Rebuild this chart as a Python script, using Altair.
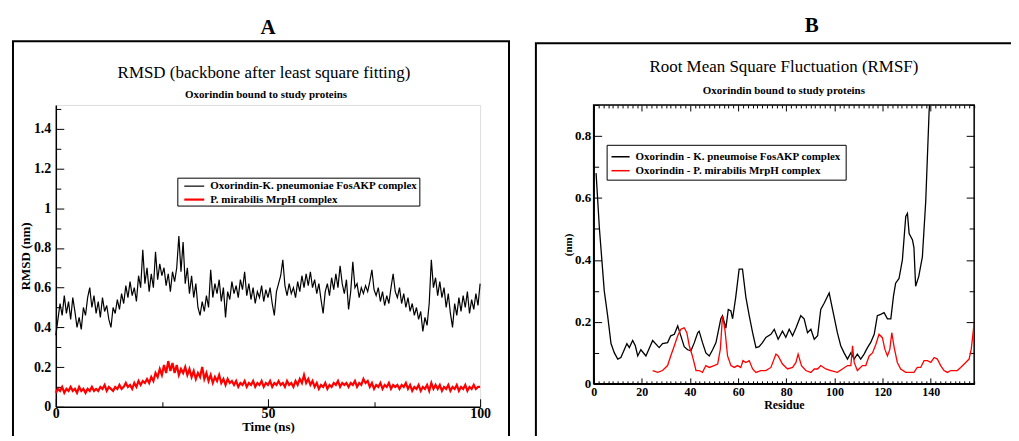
import altair as alt
import pandas as pd

FONT = "Liberation Serif"

# ---------------- Panel A : RMSD ----------------
A_SERIES = ["Oxorindin-K. pneumoniae FosAKP complex", "P. mirabilis MrpH complex"]
A_TIME = [i * 0.5 for i in range(201)]
A_BLACK = [
    0.36, 0.44, 0.52, 0.46, 0.56, 0.47, 0.53, 0.44, 0.55, 0.48, 0.40, 0.45, 0.39, 0.50, 0.46, 0.55, 0.60, 0.50, 0.56, 0.47,
    0.53, 0.45, 0.55, 0.48, 0.51, 0.44, 0.40, 0.50, 0.47, 0.54, 0.49, 0.57, 0.52, 0.61, 0.55, 0.63, 0.56, 0.60, 0.53, 0.66,
    0.60, 0.79, 0.62, 0.70, 0.58, 0.67, 0.60, 0.78, 0.64, 0.72, 0.66, 0.70, 0.61, 0.67, 0.58, 0.68, 0.63, 0.70, 0.86, 0.68,
    0.83, 0.62, 0.70, 0.57, 0.66, 0.55, 0.62, 0.50, 0.46, 0.53, 0.48, 0.56, 0.50, 0.69, 0.55, 0.62, 0.57, 0.64, 0.53, 0.60,
    0.45, 0.58, 0.54, 0.63, 0.57, 0.61, 0.55, 0.64, 0.59, 0.68, 0.56, 0.62, 0.54, 0.60, 0.52, 0.58, 0.55, 0.61, 0.53, 0.59,
    0.55, 0.60, 0.52, 0.46, 0.58, 0.62, 0.66, 0.74, 0.61, 0.56, 0.62, 0.57, 0.60, 0.55, 0.63, 0.58, 0.66, 0.60, 0.67, 0.61,
    0.68, 0.60, 0.64, 0.57, 0.62, 0.54, 0.47, 0.58, 0.62, 0.56, 0.65, 0.59, 0.67, 0.60, 0.71, 0.62, 0.57, 0.64, 0.49, 0.58,
    0.73, 0.60, 0.62, 0.55, 0.60, 0.57, 0.61, 0.58, 0.63, 0.69, 0.59, 0.56, 0.60, 0.53, 0.58, 0.51, 0.56, 0.52, 0.60, 0.67,
    0.58, 0.55, 0.60, 0.52, 0.57, 0.50, 0.55, 0.48, 0.52, 0.46, 0.50, 0.44, 0.48, 0.38, 0.45, 0.41, 0.52, 0.74, 0.60, 0.65,
    0.56, 0.63, 0.55, 0.60, 0.50, 0.57, 0.47, 0.40, 0.52, 0.46, 0.55, 0.48, 0.56, 0.50, 0.58, 0.47, 0.54, 0.49, 0.57, 0.51,
    0.62,
]
A_RED = [
    0.07, 0.09, 0.08, 0.10, 0.07, 0.09, 0.08, 0.10, 0.08, 0.09, 0.07, 0.10, 0.08, 0.09, 0.07, 0.09, 0.08, 0.10, 0.08, 0.09,
    0.08, 0.10, 0.09, 0.11, 0.08, 0.10, 0.09, 0.08, 0.10, 0.09, 0.11, 0.09, 0.10, 0.12, 0.10, 0.11, 0.09, 0.12, 0.10, 0.13,
    0.11, 0.13, 0.12, 0.14, 0.12, 0.15, 0.13, 0.17, 0.15, 0.19, 0.16, 0.21, 0.17, 0.23, 0.18, 0.22, 0.17, 0.21, 0.16, 0.19,
    0.17, 0.20, 0.16, 0.19, 0.15, 0.18, 0.14, 0.17, 0.15, 0.20, 0.14, 0.17, 0.13, 0.16, 0.12, 0.15, 0.13, 0.16, 0.12, 0.14,
    0.11, 0.14, 0.12, 0.13, 0.11, 0.13, 0.10, 0.12, 0.11, 0.13, 0.10, 0.12, 0.11, 0.13, 0.10, 0.12, 0.11, 0.13, 0.10, 0.12,
    0.11, 0.13, 0.10, 0.12, 0.11, 0.13, 0.11, 0.12, 0.10, 0.13, 0.11, 0.12, 0.10, 0.13, 0.11, 0.14, 0.12, 0.16, 0.12, 0.14,
    0.11, 0.13, 0.10, 0.12, 0.09, 0.11, 0.10, 0.12, 0.09, 0.11, 0.10, 0.12, 0.11, 0.13, 0.10, 0.12, 0.11, 0.12, 0.10, 0.12,
    0.11, 0.13, 0.10, 0.12, 0.11, 0.14, 0.12, 0.13, 0.10, 0.12, 0.09, 0.11, 0.10, 0.12, 0.09, 0.11, 0.10, 0.12, 0.09, 0.11,
    0.10, 0.11, 0.09, 0.11, 0.10, 0.12, 0.09, 0.11, 0.08, 0.10, 0.09, 0.11, 0.08, 0.10, 0.09, 0.11, 0.08, 0.12, 0.09, 0.11,
    0.09, 0.11, 0.08, 0.10, 0.09, 0.11, 0.08, 0.10, 0.09, 0.11, 0.08, 0.10, 0.09, 0.11, 0.08, 0.10, 0.09, 0.11, 0.09, 0.10,
    0.10,
]
A_X_LABELS = [0, 50, 100]
A_X_TICKS = [0, 25, 50, 75, 100]
A_Y_LABELS = [0, 0.2, 0.4, 0.6, 0.8, 1.0, 1.2, 1.4]
A_Y_TICKS = [round(i * 0.1, 1) for i in range(16)]

# ---------------- Panel B : RMSF ----------------
B_SERIES = ["Oxorindin - K. pneumoise FosAKP complex", "Oxorindin - P. mirabilis MrpH complex"]
B_BLACK_RES = [1, 2.4, 4.4, 5.8, 7.2, 8.6, 10, 11.3, 12.7, 13.8, 14.8, 16.2, 17.3, 18.3, 19.6, 21.7, 24.5, 27.2, 28.6,
               30.7, 32, 33.5, 34.9, 36.2, 37.6, 39, 40.4, 41.8, 43.2, 43.8, 45.2, 46.6, 48, 49.4, 50.8, 52.8, 53.5,
               54.9, 55.9, 57, 57.7, 59, 60.4, 61.8, 63.2, 64.6, 66, 67.4, 68.7, 70.1, 71.5, 73.6, 75, 76.6, 78.4,
               79.8, 81.2, 82.6, 84, 86, 87.4, 88.8, 90.2, 91.6, 93, 94.3, 95.7, 97.8, 99.2, 101.2, 102.6, 104, 105.4,
               106.8, 108.2, 109.5, 110.9, 112.3, 113.7, 115, 116.5, 117.8, 119.2, 120.6, 122, 123.4, 124.5, 125.4,
               126.8, 128.2, 129.6, 130.3, 131, 132.4, 133, 133.7, 135, 136.5, 137.9, 139.3, 140.5, 142, 145, 150,
               155, 158]
B_BLACK_VAL = [0.68, 0.50, 0.30, 0.22, 0.13, 0.10, 0.08, 0.085, 0.11, 0.13, 0.117, 0.14, 0.123, 0.09, 0.11, 0.09, 0.14,
               0.117, 0.13, 0.133, 0.155, 0.16, 0.187, 0.155, 0.12, 0.11, 0.107, 0.133, 0.165, 0.17, 0.133, 0.10, 0.09,
               0.11, 0.133, 0.21, 0.22, 0.18, 0.24, 0.235, 0.21, 0.28, 0.37, 0.37, 0.28, 0.22, 0.165, 0.117, 0.12,
               0.133, 0.15, 0.16, 0.176, 0.144, 0.17, 0.15, 0.176, 0.155, 0.18, 0.22, 0.21, 0.165, 0.176, 0.144,
               0.155, 0.24, 0.26, 0.293, 0.24, 0.165, 0.123, 0.10, 0.08, 0.10, 0.08, 0.096, 0.08, 0.096, 0.117, 0.133,
               0.16, 0.22, 0.224, 0.23, 0.21, 0.21, 0.283, 0.325, 0.34, 0.40, 0.54, 0.55, 0.485, 0.464, 0.44, 0.315,
               0.347, 0.41, 0.59, 0.88, 1.0, 1.15, 1.3, 1.4, 1.45, 1.5]
B_RED_RES = [24.5, 26.6, 28.6, 30.7, 32, 33.5, 34.9, 36.2, 37.6, 38.7, 39.7, 41, 42.5, 43.8, 45.2, 46.6, 48, 50, 51.5,
             52.6, 53.5, 54.5, 55.6, 57, 58.4, 59.7, 61.1, 62, 63.2, 64.6, 66, 67.4, 69.4, 71.5, 73.6, 75.7, 76.6,
             78.4, 80.5, 82.6, 84, 84.9, 86.3, 88.1, 90.2, 91.6, 93, 94.3, 96.4, 98.5, 101.2, 103.3, 105.4, 106.8,
             107.5, 108.2, 109.5, 111.6, 113, 114.4, 115.8, 117.2, 118.5, 119.9, 120.9, 122, 123, 123.8, 124.8,
             126.1, 127.5, 129.6, 131.7, 133, 134.4, 135.8, 137.2, 138.6, 140, 141.4, 142.7, 144.1, 145.5, 146.9,
             148.3, 149.7, 151, 152.4, 154.5, 155.9, 156.8, 158]
B_RED_VAL = [0.043, 0.037, 0.043, 0.059, 0.09, 0.123, 0.155, 0.176, 0.181, 0.165, 0.123, 0.09, 0.043, 0.043, 0.037,
             0.059, 0.053, 0.059, 0.064, 0.112, 0.219, 0.176, 0.09, 0.059, 0.053, 0.059, 0.053, 0.075, 0.069, 0.075,
             0.048, 0.037, 0.043, 0.043, 0.053, 0.096, 0.09, 0.064, 0.048, 0.053, 0.069, 0.096, 0.059, 0.043, 0.037,
             0.048, 0.048, 0.059, 0.048, 0.043, 0.037, 0.048, 0.059, 0.059, 0.123, 0.069, 0.043, 0.059, 0.059, 0.09,
             0.10, 0.128, 0.16, 0.149, 0.112, 0.09, 0.112, 0.165, 0.117, 0.069, 0.048, 0.037, 0.037, 0.037, 0.053,
             0.053, 0.075, 0.075, 0.069, 0.085, 0.08, 0.059, 0.043, 0.037, 0.043, 0.043, 0.043, 0.053, 0.069, 0.08,
             0.112, 0.197]
B_X_LABELS = [0, 20, 40, 60, 80, 100, 120, 140]
B_X_TICKS = list(range(0, 159, 2))
B_Y_LABELS = [0, 0.2, 0.4, 0.6, 0.8]
B_Y_TICKS = [round(i * 0.1, 1) for i in range(10)]

WA, HA = 426, 303
WB, HB = 382, 280

deco = pd.DataFrame({"k": [0]})


def text(t, x, y, size, weight="normal"):
    return alt.Chart(deco).mark_text(
        text=t, font=FONT, fontSize=size, fontWeight=weight, color="black",
        align="center", baseline="middle"
    ).encode(x=alt.value(x), y=alt.value(y))


def frame(x1, x2, y1, y2, sw=2):
    return alt.Chart(deco).mark_rect(filled=False, stroke="black", strokeWidth=sw).encode(
        x=alt.value(x1), x2=alt.value(x2), y=alt.value(y1), y2=alt.value(y2))


def label_axis(values, title, lsize, tsize, lpad, tpad):
    return alt.Axis(values=values, ticks=False, grid=False, format="~f", domainColor="black", domainWidth=1.5,
                    labelFont=FONT, labelFontSize=lsize, labelFontWeight="bold", labelColor="black",
                    labelPadding=lpad, labelOverlap=False, labelFlush=False,
                    title=title, titleFont=FONT, titleFontSize=tsize, titleFontWeight="bold",
                    titleColor="black", titlePadding=tpad)


def tick_axis(values, orient, offset, test, big, small):
    return alt.Axis(values=values, orient=orient, offset=offset, labels=False, domain=False, grid=False,
                    title=None, tickColor="black", tickWidth=1,
                    tickSize={"condition": {"test": test, "value": big}, "value": small})


def legend(x, y, pad, rowpad, size, path, symoff, laboff):
    return alt.Legend(title=None, orient="none", legendX=x, legendY=y,
                      strokeColor="black", fillColor="white", padding=pad,
                      symbolType=path, symbolSize=size, symbolStrokeWidth=1.5,
                      symbolOffset=symoff, labelOffset=laboff,
                      labelFont=FONT, labelFontSize=11, labelFontWeight="bold",
                      labelColor="black", labelLimit=500, rowPadding=rowpad)


# ----- Panel A -----
dfA = pd.concat([
    pd.DataFrame({"t": A_TIME, "v": A_BLACK, "sa": A_SERIES[0]}),
    pd.DataFrame({"t": A_TIME, "v": A_RED, "sa": A_SERIES[1]}),
])
sxA = alt.Scale(domain=[0, 100], nice=False, zero=False)
syA = alt.Scale(domain=[0, 1.52], nice=False)

linesA = alt.Chart(dfA).mark_line().encode(
    x=alt.X("t:Q", scale=sxA, axis=label_axis(A_X_LABELS, "Time (ns)", 14, 13, 0, 0)),
    y=alt.Y("v:Q", scale=syA, axis=label_axis(A_Y_LABELS, "RMSD (nm)", 14, 13, 5, 1)),
    color=alt.Color("sa:N", scale=alt.Scale(domain=A_SERIES, range=["black", "red"]),
                    legend=legend(122, 73, 1, 0, 169, "M-1.54,0H1.54", 8, 8)),
    strokeWidth=alt.StrokeWidth("sa:N", scale=alt.Scale(domain=A_SERIES, range=[1.2, 2.2]), legend=None),
)
ticksA = alt.Chart(pd.DataFrame({"t": [0], "v": [0]})).mark_point(opacity=0).encode(
    x=alt.X("t:Q", scale=sxA, axis=tick_axis(A_X_TICKS, "top", -HA, "datum.value % 50 == 0", 8, 5)),
    y=alt.Y("v:Q", scale=syA, axis=tick_axis(A_Y_TICKS, "right", -WA,
                                             "abs(datum.value*5 - round(datum.value*5)) < 0.001", 8, 5)),
)
panelA = alt.layer(
    frame(-43, 455, -64, 348),
    text("A", 213, -77, 21, "bold"),
    text("RMSD (backbone after least square fitting)", 209, -32, 17),
    text("Oxorindin bound to study proteins", 211, -10, 11, "bold"),
    linesA, ticksA,
).resolve_axis(x="independent", y="independent").properties(width=WA, height=HA)

# ----- Panel B -----
dfB = pd.concat([
    pd.DataFrame({"r": B_BLACK_RES, "v": B_BLACK_VAL, "sb": B_SERIES[0]}),
    pd.DataFrame({"r": B_RED_RES, "v": B_RED_VAL, "sb": B_SERIES[1]}),
])
sxB = alt.Scale(domain=[0, 158], nice=False, zero=False)
syB = alt.Scale(domain=[0, 0.9], nice=False)

linesB = alt.Chart(dfB).mark_line(clip=True, strokeWidth=1.3).encode(
    x=alt.X("r:Q", scale=sxB, axis=label_axis(B_X_LABELS, "Residue", 12, 12, 3, 2)),
    y=alt.Y("v:Q", scale=syB, axis=label_axis(B_Y_LABELS, "(nm)", 13, 11, 3, 1)),
    color=alt.Color("sb:N", scale=alt.Scale(domain=B_SERIES, range=["black", "red"]),
                    legend=legend(13, 40, 4, 1, 196, "M-1.3,0H1.3", 2, 7)),
)
tickB = pd.DataFrame({"r": [0], "v": [0]})
ticksB1 = alt.Chart(tickB).mark_point(opacity=0).encode(
    x=alt.X("r:Q", scale=sxB, axis=tick_axis(B_X_TICKS, "top", -HB, "datum.value % 20 == 0", 6, 3)),
    y=alt.Y("v:Q", scale=syB, axis=tick_axis(B_Y_TICKS, "right", -WB,
                                             "abs(datum.value*5 - round(datum.value*5)) < 0.001", 8, 5)),
)
ticksB2 = alt.Chart(tickB).mark_point(opacity=0).encode(
    x=alt.X("r:Q", scale=sxB, axis=tick_axis(B_X_TICKS, "bottom", -HB, "datum.value % 20 == 0", 6, 3)),
    y=alt.Y("v:Q", scale=syB, axis=tick_axis(B_Y_TICKS, "left", -WB,
                                             "abs(datum.value*5 - round(datum.value*5)) < 0.001", 8, 5)),
)
panelB = alt.layer(
    frame(-58, 440, -62, 348),
    frame(0, WB, 0, HB, 1.5),
    text("B", 219, -79, 21, "bold"),
    text("Root Mean Square Fluctuation (RMSF)", 191, -38, 17),
    text("Oxorindin bound to study proteins", 191, -14, 11, "bold"),
    linesB, ticksB1, ticksB2,
).resolve_axis(x="independent", y="independent").properties(width=WB, height=HB)

chart = alt.hconcat(panelA, panelB, spacing=23).resolve_scale(
    color="independent", strokeWidth="independent"
).properties(
    padding={"left": 3, "top": 5.5, "right": -23, "bottom": -19}
).configure_view(stroke=None).configure(background="white")

chart.save("out.html", embed_options={"renderer": "svg", "actions": False})
